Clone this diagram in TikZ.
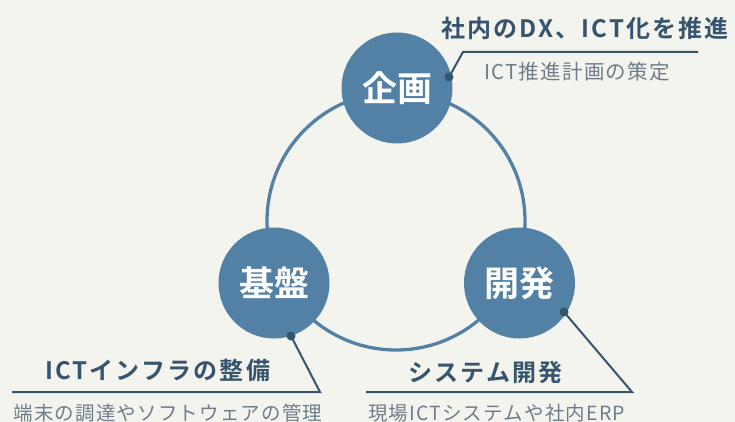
\documentclass[tikz,border=0pt]{standalone}
\usepackage{fontspec}
\setmainfont{Noto Sans CJK JP}
\newfontfamily\jpreg{Noto Sans CJK JP}[LetterSpace=6]
\newfontfamily\jpregw{Noto Sans CJK JP}[LetterSpace=6]
\newfontfamily\jpbold{Noto Sans CJK JP Bold}[LetterSpace=9]
\newfontfamily\jpdisk{Noto Sans CJK JP Bold}
\definecolor{bgc}{HTML}{F4F4EF}
\definecolor{diskc}{HTML}{5380A5}
\definecolor{ringc}{HTML}{5380A5}
\definecolor{darkc}{HTML}{37546E}
\definecolor{subc}{HTML}{6E7D89}
\tikzset{
  disk/.style={circle,fill=diskc,minimum size=111pt,inner sep=0pt,text=white,font=\jpdisk\fontsize{35}{35}\selectfont},
  ring/.style={draw=ringc,line width=3.3pt},
  dotn/.style={circle,fill=darkc,minimum size=9pt,inner sep=0pt},
  callout/.style={draw=darkc,line width=2pt},
  ttl/.style={text=darkc,font=\jpbold\fontsize{24}{26}\selectfont,inner sep=0pt},
  subt/.style={text=subc,font=\jpreg\fontsize{19.5}{20}\selectfont,inner sep=0pt},
  subtw/.style={text=subc,font=\jpregw\fontsize{20.5}{22}\selectfont,inner sep=0pt},
}
\begin{document}
\begin{tikzpicture}[x=1pt,y=-1pt]
\useasboundingbox (0,0) rectangle (735,422);
\fill[bgc] (0,0) rectangle (735,422);
\coordinate (ctr) at (396,221);
\draw[ring] (ctr) circle (129pt);
\node[disk] (plan) at (397,88) {企画};
\node[disk] (base) at (274,283) {基盤};
\node[disk] (dev) at (519.5,283) {開発};
% plan callout
\node[dotn] (d1) at (449,77) {};
\coordinate (k1) at (463,52);
\coordinate (e1) at (698,52);
\draw[callout] (d1.center) -- (k1) -- (e1);
\node[ttl] (t1) at (585,28) {社内のDX、ICT化を推進};
\node[subtw] (s1) at (577,72) {ICT推進計画の策定};
% base callout
\node[dotn] (d2) at (291,336) {};
\coordinate (k2) at (320,392);
\coordinate (e2) at (12,392);
\draw[callout] (d2.center) -- (k2) -- (e2);
\node[ttl] (t2) at (157.5,370) {ICTインフラの整備};
\node[subt] (s2) at (168,413) {端末の調達やソフトウェアの管理};
% dev callout
\node[dotn] (d3) at (564,312) {};
\coordinate (k3) at (632,392);
\coordinate (e3) at (366,392);
\draw[callout] (d3.center) -- (k3) -- (e3);
\node[ttl] (t3) at (485.5,372) {システム開発};
\node[subt] (s3) at (496.5,413) {現場ICTシステムや社内ERP};
\end{tikzpicture}
\end{document}
